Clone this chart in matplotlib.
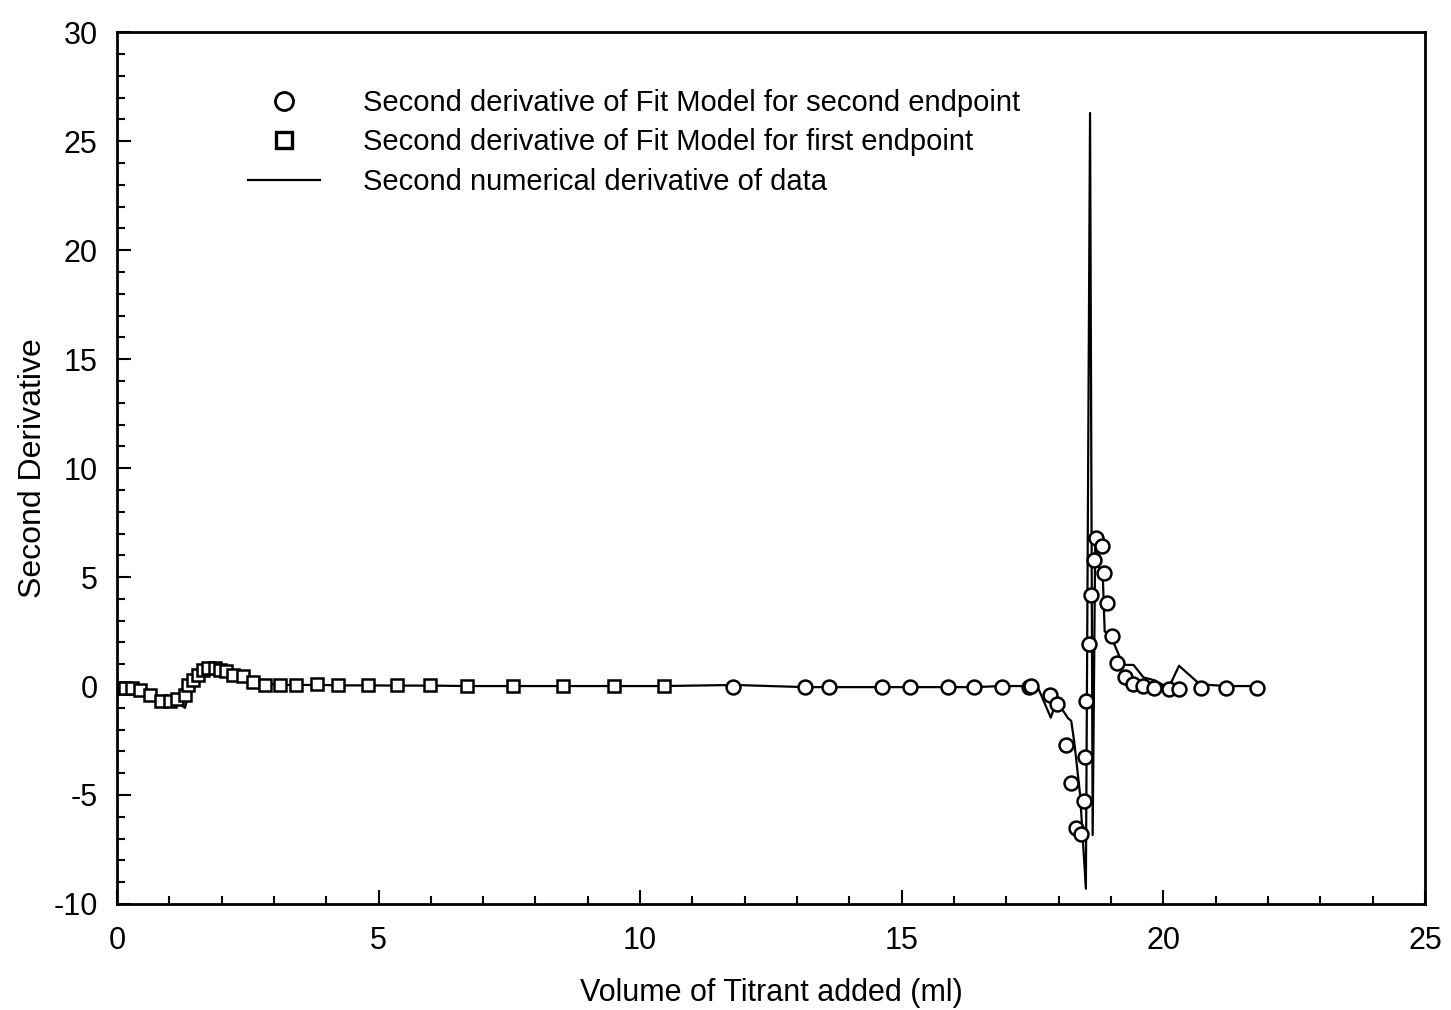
import matplotlib
matplotlib.use("Agg")
import matplotlib.pyplot as plt
from matplotlib.lines import Line2D
from matplotlib.ticker import MultipleLocator

plt.rcParams["font.family"] = ["Liberation Sans Narrow", "Liberation Sans", "DejaVu Sans"]
plt.rcParams["axes.unicode_minus"] = False

# squares: second derivative of fit model, first endpoint
sq_x = [0.03, 0.15, 0.28, 0.44, 0.63, 0.85, 1.01, 1.14, 1.30, 1.36, 1.46, 1.55,
        1.65, 1.74, 1.87, 1.97, 2.08, 2.22, 2.41, 2.61, 2.83, 3.12, 3.43, 3.82,
        4.23, 4.80, 5.35, 5.98, 6.69, 7.57, 8.52, 9.50, 10.45]
sq_y = [-0.1, -0.1, -0.1, -0.17, -0.4, -0.7, -0.7, -0.6, -0.4, 0.05, 0.28, 0.51,
        0.74, 0.82, 0.82, 0.74, 0.67, 0.51, 0.44, 0.2, 0.05, 0.05, 0.05, 0.1,
        0.05, 0.05, 0.03, 0.03, 0.02, 0.02, 0.0, 0.0, 0.0]

# circles: second derivative of fit model, second endpoint
ci_x = [11.77, 13.15, 13.61, 14.62, 15.16, 15.88, 16.38, 16.91, 17.43, 17.48,
        17.83, 17.96, 18.14, 18.23, 18.34, 18.42, 18.48, 18.51, 18.53, 18.58,
        18.62, 18.67, 18.71, 18.82, 18.86, 18.93, 19.01, 19.11, 19.27, 19.43,
        19.62, 19.83, 20.11, 20.30, 20.73, 21.19, 21.80]
ci_y = [-0.05, -0.05, -0.05, -0.05, -0.05, -0.05, -0.05, -0.05, -0.05, 0.0,
        -0.4, -0.84, -2.7, -4.47, -6.5, -6.8, -5.27, -3.24, -0.68, 1.92,
        4.16, 5.8, 6.8, 6.41, 5.2, 3.8, 2.28, 1.08, 0.4, 0.08,
        0.0, -0.1, -0.15, -0.15, -0.1, -0.1, -0.1]

# line: second numerical derivative of data
ln_x = [0.0, 0.15, 0.3, 0.45, 0.6, 0.8, 1.0, 1.15, 1.3, 1.38, 1.45, 1.55, 1.65,
        1.75, 1.9, 2.0, 2.15, 2.3, 2.5, 2.7, 2.9, 3.2, 3.5, 3.9, 4.3, 4.8, 5.4,
        6.0, 6.7, 7.6, 8.5, 9.5, 10.45, 11.8, 13.15, 13.6, 14.6, 15.2, 15.9,
        16.4, 16.9, 17.45, 17.6, 17.85, 17.96, 18.18, 18.24, 18.3, 18.41, 18.52,
        18.6, 18.65, 18.7, 18.78, 18.84, 18.88, 18.98, 19.23, 19.43, 19.62,
        19.85, 20.1, 20.3, 20.7, 21.2, 21.8]
ln_y = [-0.05, -0.15, -0.2, -0.25, -0.4, -0.6, -0.7, -0.75, -1.0, -0.3, 0.1,
        0.4, 0.65, 0.8, 0.85, 0.75, 0.6, 0.5, 0.35, 0.2, 0.1, 0.05, 0.05, 0.05,
        0.03, 0.03, 0.02, 0.02, 0.0, 0.0, 0.0, 0.0, 0.0, 0.05, -0.05, -0.05,
        -0.05, -0.05, -0.05, -0.05, 0.0, 0.0, -0.05, -1.45, -0.68, -1.48, -1.6,
        -2.6, -5.0, -9.3, 26.3, -6.84, 7.0, 5.3, 5.26, 2.5, 2.4, 0.97, 0.97,
        0.4, 0.25, -0.1, 0.93, 0.08, 0.0, 0.0]

fig = plt.figure(figsize=(14.51, 10.10), dpi=100)
ax = fig.add_axes([0.0806, 0.105, 0.9014, 0.863])

ax.plot(ln_x, ln_y, color="black", lw=1.6)
ax.plot(sq_x, sq_y, ls="none", marker="s", ms=9, mfc="white", mec="black", mew=1.8)
ax.plot(ci_x, ci_y, ls="none", marker="o", ms=10, mfc="white", mec="black", mew=1.8)

ax.set_xlim(0, 25)
ax.set_ylim(-10, 30)
ax.xaxis.set_major_locator(MultipleLocator(5))
ax.xaxis.set_minor_locator(MultipleLocator(1))
ax.yaxis.set_major_locator(MultipleLocator(5))
ax.yaxis.set_minor_locator(MultipleLocator(1))
ax.tick_params(which="both", direction="in", top=False, right=False, width=1.5)
ax.tick_params(which="major", length=10, labelsize=22)
ax.tick_params(axis="x", which="major", pad=16)
ax.tick_params(axis="y", which="major", pad=14)
ax.tick_params(which="minor", length=6)
for sp in ax.spines.values():
    sp.set_linewidth(2)

ax.set_xlabel("Volume of Titrant added (ml)", fontsize=22, labelpad=16)
ax.set_ylabel("Second Derivative", fontsize=23, labelpad=4)

handles = [
    Line2D([], [], ls="none", marker="o", ms=13, mfc="white", mec="black", mew=2.0),
    Line2D([], [], ls="none", marker="s", ms=11, mfc="white", mec="black", mew=2.4),
    Line2D([], [], color="black", lw=1.6),
]
labels = ["Second derivative of Fit Model for second endpoint",
          "Second derivative of Fit Model for first endpoint",
          "Second numerical derivative of data"]
ax.legend(handles, labels, loc="upper left", bbox_to_anchor=(0.1, 0.935),
          frameon=False, fontsize=21, handlelength=2.47, handletextpad=1.47,
          labelspacing=0.39, borderpad=0, borderaxespad=0)

fig.savefig("out.png", dpi=100)
